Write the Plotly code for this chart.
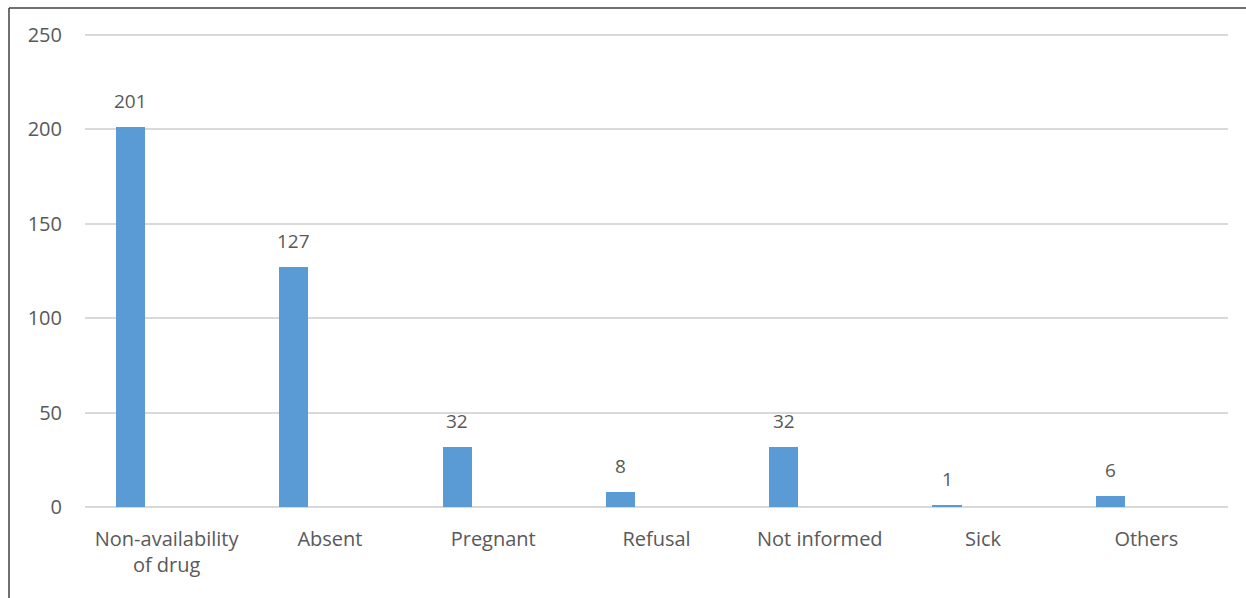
import plotly.graph_objects as go

categories = ["Non-availability<br>of drug", "Absent", "Pregnant", "Refusal", "Not informed", "Sick", "Others"]
values = [201, 127, 32, 8, 32, 1, 6]
y_ticks = [0, 50, 100, 150, 200, 250]

W, H = 1246, 598
ML, MR, MT, MB = 85, 18, 33, 91
pw, ph = W - ML - MR, H - MT - MB

font_family = "Open Sans, Noto Sans, sans-serif"
grey = "#595959"
fs = 20

fig = go.Figure()
fig.add_trace(go.Bar(
    x=categories, y=values,
    marker=dict(color="#5B9BD5", line=dict(width=0)),
    width=0.178, offset=-0.31,
    hoverinfo="x+y",
))

for c, v in zip(categories, values):
    fig.add_annotation(x=c, y=v, text=str(v), showarrow=False,
                       xref="x", yref="y", xshift=-36, yshift=11, yanchor="bottom",
                       font=dict(family=font_family, size=fs - 1, color=grey))

# outer frame (left and top edges visible)
fig.add_shape(type="line", xref="paper", yref="paper",
              x0=(9 - ML) / pw, x1=(W + 5 - ML) / pw,
              y0=(H - MB - 8) / ph, y1=(H - MB - 8) / ph,
              line=dict(color="#404040", width=1.5))
fig.add_shape(type="line", xref="paper", yref="paper",
              x0=(9 - ML) / pw, x1=(9 - ML) / pw,
              y0=(H - MB - 8) / ph, y1=-(MB + 5) / ph,
              line=dict(color="#404040", width=1.5))

fig.update_layout(
    width=W, height=H,
    margin=dict(l=ML, r=MR, t=MT, b=MB),
    paper_bgcolor="white", plot_bgcolor="white",
    showlegend=False,
    font=dict(family=font_family, size=fs, color=grey),
    bargap=0,
)
fig.update_xaxes(type="category", showgrid=False, showline=False, ticks="",
                 tickfont=dict(size=fs, color=grey), ticklabelstandoff=18)
fig.update_yaxes(range=[0, 251], tickvals=y_ticks, showgrid=True, gridcolor="#d9d9d9",
                 gridwidth=1.5, zeroline=True, zerolinecolor="#d9d9d9", zerolinewidth=1.5,
                 showline=False, ticks="", tickfont=dict(size=fs, color=grey),
                 ticklabelstandoff=22)

fig.write_html("out.html")
